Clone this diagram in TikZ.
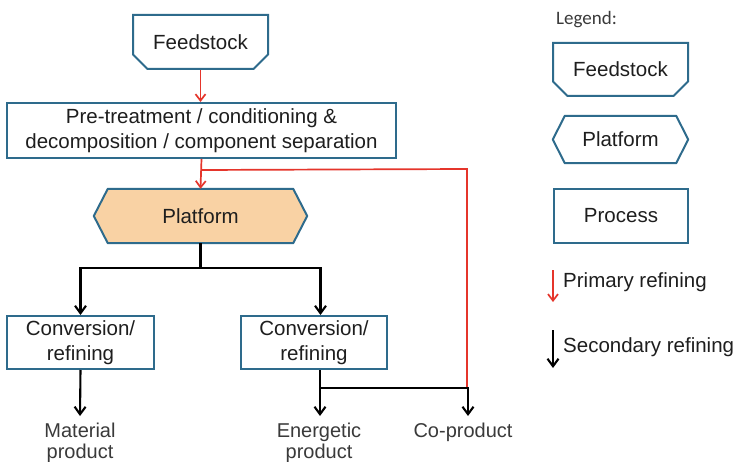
\documentclass[tikz,border=0pt]{standalone}
\usepackage{fontspec}
\setmainfont{Liberation Sans}
\newfontfamily\legendfont{Carlito}
\usetikzlibrary{shapes.misc,arrows.meta,calc,backgrounds}

\definecolor{boxblue}{HTML}{2E6B8C}
\definecolor{peach}{HTML}{F9D2A4}
\definecolor{flowred}{HTML}{E5352B}
\definecolor{textdark}{HTML}{1E1E1E}
\definecolor{textgrey}{HTML}{3A3A3A}

\tikzset{
  boxtext/.style={font=\fontsize{20.5}{25}\selectfont, text=textdark, align=center},
  procbox/.style={boxtext, draw=boxblue, line width=2pt, fill=white,
    rectangle, inner sep=0pt},
  feedbox/.style={procbox, chamfered rectangle,
    chamfered rectangle corners={south west,south east},
    chamfered rectangle xsep=8pt, chamfered rectangle ysep=7pt},
  platformtext/.style={boxtext, rectangle, inner sep=0pt},
  hexline/.style={draw=boxblue, line width=2pt, line join=round},
  prodtext/.style={font=\fontsize{20}{21.5}\selectfont, text=textgrey,
    align=center, inner sep=0pt, outer ysep=7pt},
  redline/.style={draw=flowred, line width=1.7pt},
  redarrow/.style={redline, -{Straight Barb[length=6.5pt,width=10pt,line width=1.7pt]}},
  blkline/.style={draw=black, line width=2.1pt},
  blkarrow/.style={blkline, -{Straight Barb[length=7.5pt,width=11pt,line width=2.1pt]}},
}

\begin{document}
\begin{tikzpicture}[x=1pt,y=-1pt]
  \useasboundingbox (0,0) rectangle (741,462);

  % main flow boxes
  \node[feedbox, minimum width=135pt, minimum height=54pt] (fs) at (200.5,42) {Feedstock};
  \node[procbox, minimum width=389pt, minimum height=55pt] (pre) at (201.5,130.5)
    {Pre-treatment / conditioning \&\\decomposition / component separation};
  \node[platformtext, minimum width=213pt, minimum height=54pt] (pf) at (200.5,216) {Platform};
  \node[procbox, minimum width=147pt, minimum height=53pt] (c1) at (80.5,342.5) {Conversion/\\refining};
  \node[procbox, minimum width=146pt, minimum height=53pt] (c2) at (314,342.5) {Conversion/\\refining};

  % white page, then the peach platform hexagon behind its label
  \begin{scope}[on background layer]
    \fill[white] (0,0) rectangle (741,462);
    \fill[peach] (pf.west) -- ([xshift=14pt]pf.north west) -- ([xshift=-14pt]pf.north east)
      -- (pf.east) -- ([xshift=-14pt]pf.south east) -- ([xshift=14pt]pf.south west) -- cycle;
  \end{scope}
  \draw[hexline] (pf.west) -- ([xshift=14pt]pf.north west) -- ([xshift=-14pt]pf.north east)
    -- (pf.east) -- ([xshift=-14pt]pf.south east) -- ([xshift=14pt]pf.south west) -- cycle;

  % products
  \node[prodtext, anchor=north] (mat) at (80,416) {Material\\product};
  \node[prodtext, anchor=north] (ene) at (319,416) {Energetic\\product};
  \node[prodtext, anchor=north] (cop) at (463,416) {Co-product};

  % primary refining (red)
  \draw[redarrow] (fs.south) -- (fs.south |- pre.north);
  \coordinate (rsplit) at ($(pre.south)+(0,11)$);
  \coordinate (rcorner) at (467,169);
  \coordinate (rend) at (467,388);
  \draw[redarrow] (pre.south) -- (pf.north);
  \draw[redline] (rsplit) -- (rcorner) -- (rend);

  % secondary refining (black)
  \coordinate (bsplit) at ($(pf.south)+(0,25)$);
  \coordinate (c2in) at ([xshift=6.5pt]c2.north);
  \coordinate (c2out) at ([xshift=6pt]c2.south);
  \coordinate (bsplit2) at (320,388);
  \draw[blkline] (pf.south) -- (bsplit);
  \draw[blkarrow] (bsplit) -| (c1.north);
  \draw[blkarrow] (bsplit) -| (c2in);
  \draw[blkarrow] (c1.south) -- (mat.north);
  \draw[blkarrow] (c2out) -- (c2out |- ene.north);
  \draw[blkarrow] (bsplit2) -| ([xshift=5pt]cop.north);

  % legend
  \node[anchor=west, font=\legendfont\fontsize{19}{22}\selectfont, text=textgrey, inner sep=0pt]
    (legtitle) at (556,20) {Legend:};
  \node[feedbox, minimum width=135pt, minimum height=53pt] (lfs) at (620.5,69.5) {Feedstock};
  \node[platformtext, minimum width=135pt, minimum height=47pt] (lpf) at (620.5,139.5) {Platform};
  \draw[hexline] (lpf.west) -- ([xshift=12pt]lpf.north west) -- ([xshift=-12pt]lpf.north east)
    -- (lpf.east) -- ([xshift=-12pt]lpf.south east) -- ([xshift=12pt]lpf.south west) -- cycle;
  \node[procbox, minimum width=134pt, minimum height=54pt] (lpr) at (621,216) {Process};

  \coordinate (lra) at (553,270);
  \coordinate (lrb) at (553,302);
  \draw[redarrow] (lra) -- (lrb);
  \node[boxtext, anchor=west, inner sep=0pt] (lrt) at (563,282) {Primary refining};

  \coordinate (lba) at (553,330);
  \coordinate (lbb) at (553,368);
  \draw[blkarrow] (lba) -- (lbb);
  \node[boxtext, anchor=west, inner sep=0pt] (lbt) at (563,347) {Secondary refining};
\end{tikzpicture}
\end{document}
